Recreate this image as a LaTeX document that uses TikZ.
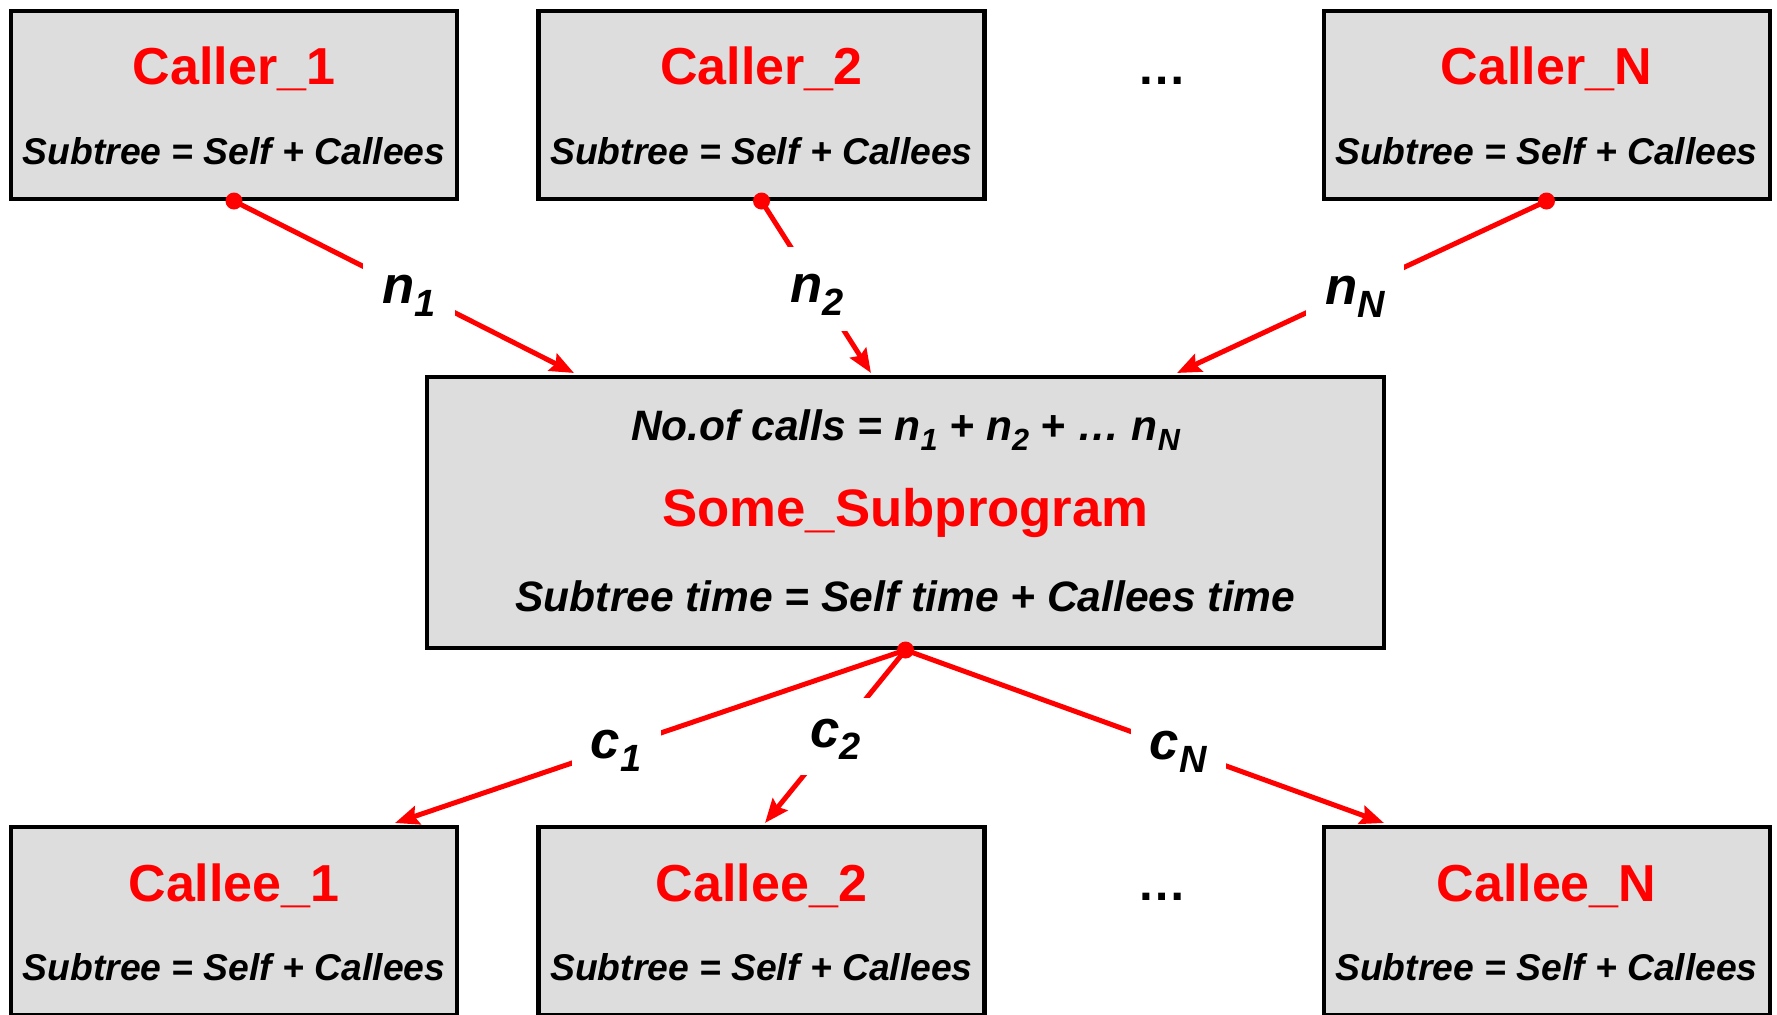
\documentclass[tikz,border=0pt]{standalone}
\usepackage{fontspec}
\setmainfont{Liberation Sans}
\usetikzlibrary{arrows.meta,calc}

\definecolor{boxgray}{HTML}{DDDDDD}
\definecolor{callred}{HTML}{FF0000}

% lowered, reduced subscript in the current font
\newcommand{\lowsub}[1]{\raisebox{-0.24em}{\scalebox{0.72}{#1}}}

\tikzset{
  smallbox/.style={rectangle, draw=black, line width=1.15pt, fill=boxgray,
    minimum width=44.6mm, minimum height=18.8mm, inner sep=0pt},
  bigbox/.style={rectangle, draw=black, line width=1.15pt, fill=boxgray,
    minimum width=95.7mm, minimum height=27.1mm, inner sep=0pt},
  title/.style={anchor=base, inner sep=0pt, text=callred,
    font=\fontsize{14.8}{17}\selectfont\bfseries},
  formula/.style={anchor=base, inner sep=0pt,
    font=\fontsize{10.6}{12}\selectfont\bfseries\itshape},
  bigformula/.style={anchor=base, inner sep=0pt,
    font=\fontsize{12.1}{14}\selectfont\bfseries\itshape},
  etc/.style={anchor=base, inner sep=0pt,
    font=\fontsize{14}{16}\selectfont\bfseries},
  call/.style={draw=callred, line width=1.42pt,
    -{Stealth[length=6.8pt,width=5.4pt,inset=1pt]}},
  count/.style={fill=white, inner sep=5.5pt, text depth=0.24em,
    font=\fontsize{15}{17}\selectfont\bfseries\itshape},
  incount/.style={count, text height=1.05em},
  outcount/.style={count, text height=0.85em},
  dot/.style={fill=callred}
}

\begin{document}
\begin{tikzpicture}[x=0.1mm,y=-0.1mm]
\useasboundingbox (0,0) rectangle (1777,1014);
\clip (0,0) rectangle (1777,1014);

% callers
\node[smallbox] (caller1) at (234,105) {};
\node[smallbox] (caller2) at (761.5,105) {};
\node[smallbox] (callerN) at (1546.5,105) {};
\foreach \b/\t in {caller1/Caller\_1, caller2/Caller\_2, callerN/Caller\_N}{
  \node[title] (\b-name) at ($(\b.north)+(0,76)$) {\t};
  \node[formula] (\b-time) at ($(\b.north)+(0,156)$) {Subtree = Self + Callees};
}
\node[etc] (callerdots) at (1162,84) {\ldots};

% the subprogram itself
\node[bigbox] (sub) at (905.5,512.5) {};
\node[bigformula] (sub-calls) at ($(sub.north)+(0,65)$)
  {No.of calls = n\lowsub{1} + n\lowsub{2} + \ldots{} n\lowsub{N}};
\node[title, font=\fontsize{15}{17}\selectfont\bfseries] (sub-name) at ($(sub.north)+(0,151)$) {Some\_Subprogram};
\node[bigformula] (sub-time) at ($(sub.north)+(0,236)$)
  {Subtree time = Self time + Callees time};

% callees
\node[smallbox] (callee1) at (234,921) {};
\node[smallbox] (callee2) at (761.5,921) {};
\node[smallbox] (calleeN) at (1546.5,921) {};
\foreach \b/\t in {callee1/Callee\_1, callee2/Callee\_2, calleeN/Callee\_N}{
  \node[title] (\b-name) at ($(\b.north)+(0,76)$) {\t};
  \node[formula] (\b-time) at ($(\b.north)+(0,155)$) {Subtree = Self + Callees};
}
\node[etc] (calleedots) at (1162,900) {\ldots};

% connector end points
\coordinate (in1) at ($(sub.north west)+(149,-2)$);
\coordinate (in2) at ($(sub.north west)+(446,-2)$);
\coordinate (inN) at ($(sub.north west)+(752,-2)$);
\coordinate (out1) at ($(callee1.north west)+(386,-2)$);
\coordinate (out2) at ($(callee2.north)+(3.5,-2)$);
\coordinate (outN) at ($(calleeN.north west)+(62.5,-2)$);

% incoming calls
\draw[call] (caller1.south) -- node[incount, pos=0.515] (n1) {n\lowsub{1}} (in1);
\draw[call] (caller2.south) -- node[incount, pos=0.51] (n2) {n\lowsub{2}} (in2);
\draw[call] (callerN.south) -- node[incount, pos=0.518] (nN) {n\lowsub{N}} (inN);
\fill[dot] (caller1.south) circle (0.85mm);
\fill[dot] (caller2.south) circle (0.85mm);
\fill[dot] (callerN.south) circle (0.85mm);

% outgoing calls
\draw[call] (sub.south) -- node[outcount, pos=0.567] (c1) {c\lowsub{1}} (out1);
\draw[call] (sub.south) -- node[outcount, pos=0.5] (c2) {c\lowsub{2}} (out2);
\draw[call] (sub.south) -- node[outcount, pos=0.57] (cN) {c\lowsub{N}} (outN);
\fill[dot] (sub.south) circle (0.85mm);
\end{tikzpicture}
\end{document}
